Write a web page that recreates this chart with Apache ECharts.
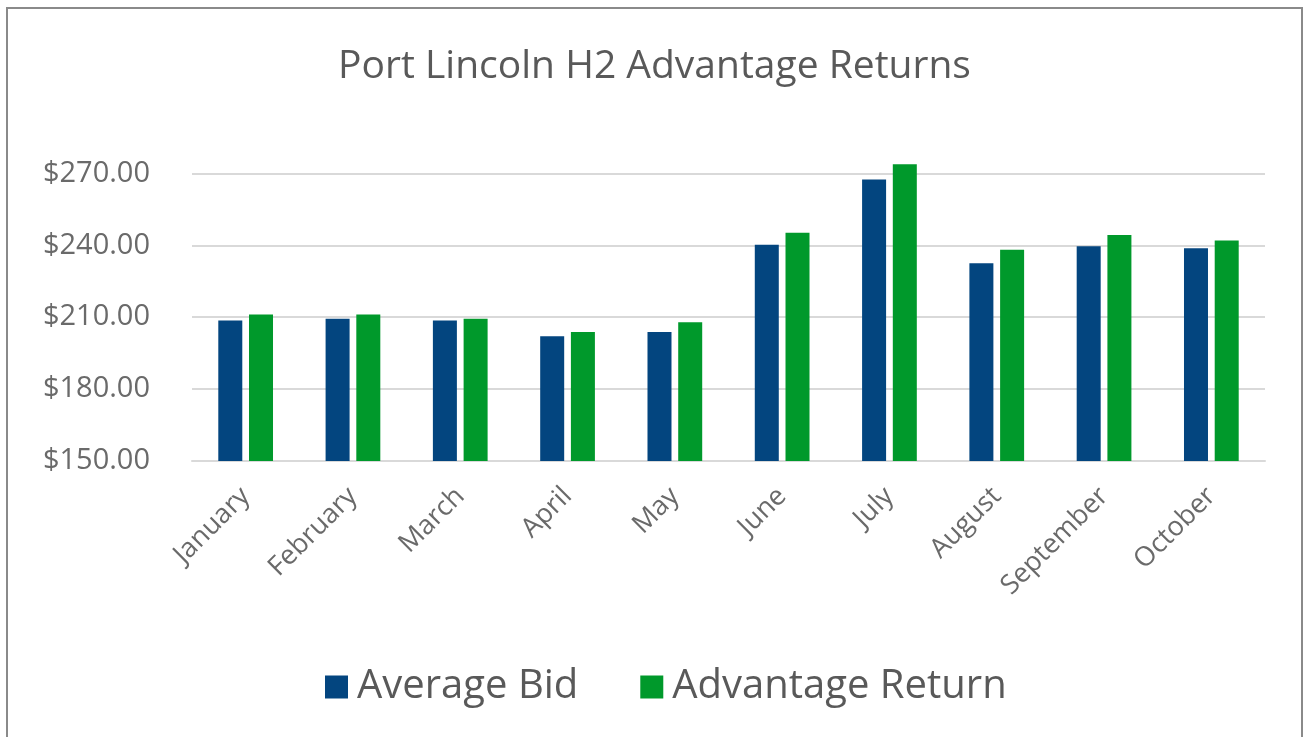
<!DOCTYPE html>
<html>
<head>
<meta charset="utf-8">
<script src="https://cdn.jsdelivr.net/npm/echarts@6/dist/echarts.min.js"></script>
<style>
	html, body { margin: 0; padding: 0; background: #fff; }
	#frame {
		position: absolute; left: 6px; top: 7px; width: 1293px; height: 728px;
		border: 2px solid #8a8a8a; border-bottom: none;
	}
	#main { position: absolute; left: 0; top: 0; width: 1309px; height: 740px; }
</style>
</head>
<body>
<div id="frame"></div>
<div id="main"></div>
<script>
const months = ['January', 'February', 'March', 'April', 'May', 'June', 'July', 'August', 'September', 'October'];
const averageBid = [208.6, 209.4, 208.6, 202.1, 203.8, 240.2, 267.4, 232.5, 239.6, 238.8];
const advantageReturn = [211.1, 211.1, 209.4, 203.8, 207.9, 245.2, 273.8, 238.1, 244.3, 242.0];
const yTicks = [150, 180, 210, 240, 270];

const FONT = 'Open Sans';
const chart = echarts.init(document.getElementById('main'));
chart.setOption({
	title: {
		text: 'Port Lincoln H2 Advantage Returns',
		left: 'center',
		top: 42,
		textStyle: { fontFamily: FONT, fontSize: 39, fontWeight: 'normal', color: '#595959' },
	},
	legend: {
		bottom: 28,
		left: 320,
		itemWidth: 23,
		itemHeight: 23,
		itemGap: 62,
		icon: 'rect',
		textStyle: { fontFamily: FONT, fontSize: 40, color: '#595959', padding: [0, 0, 0, 4] },
		data: ['Average Bid', 'Advantage Return'],
	},
	// 顶部留出一点空间，让七月的柱子超过 $270 线
	grid: { left: 192, right: 44, top: 159, bottom: 279 },
	xAxis: {
		type: 'category',
		data: months,
		axisLine: { show: true, lineStyle: { color: '#d9d9d9', width: 2 } },
		axisTick: { show: false },
		axisLabel: {
			rotate: 45,
			interval: 0,
			margin: 31,
			fontFamily: FONT,
			fontSize: 27,
			color: '#6a6a6a',
		},
	},
	yAxis: {
		type: 'value',
		min: yTicks[0],
		max: 276,
		interval: 30,
		axisLine: { show: false },
		axisTick: { show: false },
		splitLine: { showMaxLine: false, lineStyle: { color: '#d9d9d9', width: 2 } },
		axisLabel: {
			showMaxLabel: false,
			margin: 42,
			fontFamily: FONT,
			fontSize: 29,
			color: '#6a6a6a',
			formatter: v => (yTicks.includes(v) ? '$' + v.toFixed(2) : ''),
		},
	},
	series: [
		{
			name: 'Average Bid',
			type: 'bar',
			data: averageBid,
			barWidth: 24,
			barGap: '28%',
			itemStyle: { color: '#03457f' },
		},
		{
			name: 'Advantage Return',
			type: 'bar',
			data: advantageReturn,
			barWidth: 24,
			itemStyle: { color: '#00992b' },
		},
	],
});
</script>
</body>
</html>
